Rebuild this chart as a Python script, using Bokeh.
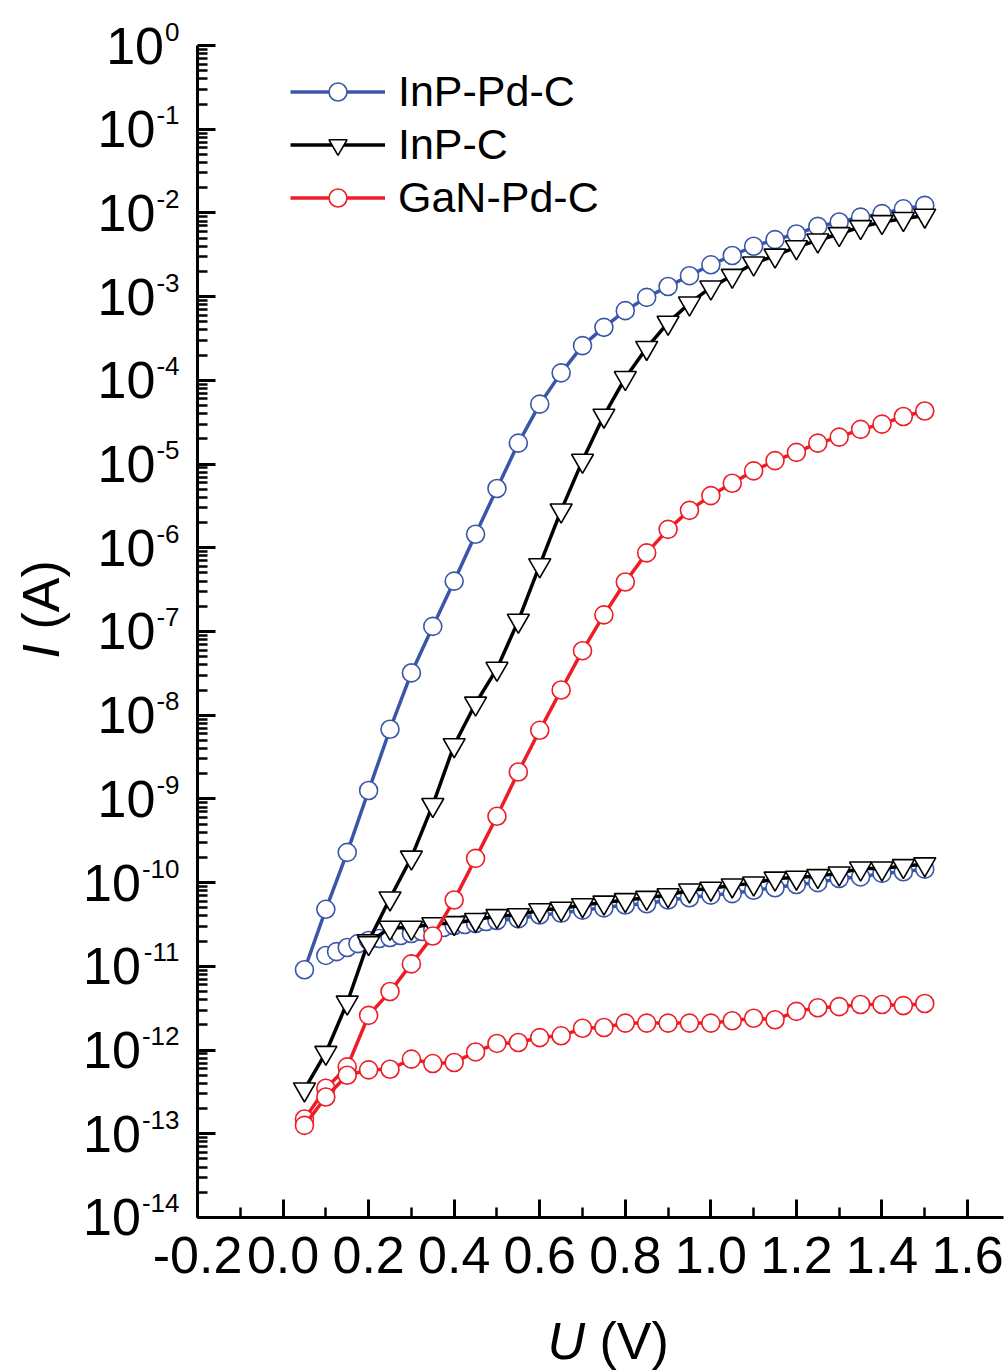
import math
from bokeh.plotting import figure
from bokeh.models import (FixedTicker, Label, Legend, LegendItem, Range1d,
                          CustomJSTickFormatter)
from bokeh.embed import file_html
from bokeh.resources import INLINE

# ---------------- data ----------------
voltage = [0.05, 0.10, 0.15, 0.20, 0.25, 0.30, 0.35, 0.40, 0.45, 0.50,
           0.55, 0.60, 0.65, 0.70, 0.75, 0.80, 0.85, 0.90, 0.95, 1.00,
           1.05, 1.10, 1.15, 1.20, 1.25, 1.30, 1.35, 1.40, 1.45, 1.50]

# InP-Pd-C, upper branch (0.05 ... 1.5 V)
inp_pd_c_hi = [9.1e-12, 4.8e-11, 2.3e-10, 1.26e-9, 6.8e-9, 3.2e-8, 1.15e-7,
               4.0e-7, 1.45e-6, 5.1e-6, 1.78e-5, 5.2e-5, 1.23e-4, 2.6e-4,
               4.3e-4, 6.8e-4, 9.8e-4, 1.32e-3, 1.78e-3, 2.4e-3, 3.1e-3,
               4.0e-3, 4.8e-3, 5.6e-3, 6.9e-3, 7.8e-3, 8.9e-3, 9.8e-3,
               1.12e-2, 1.23e-2]
# InP-Pd-C, lower branch (denser sampling up to 0.5 V)
inp_pd_c_lo_v = [0.100, 0.125, 0.150, 0.175, 0.200, 0.225, 0.250, 0.275,
                 0.300, 0.325, 0.350, 0.375, 0.400, 0.425, 0.450, 0.475,
                 0.500, 0.55, 0.60, 0.65, 0.70, 0.75, 0.80, 0.85, 0.90,
                 0.95, 1.00, 1.05, 1.10, 1.15, 1.20, 1.25, 1.30, 1.35, 1.40,
                 1.45, 1.50]
inp_pd_c_lo = [1.35e-11, 1.50e-11, 1.68e-11, 1.87e-11, 2.04e-11, 2.15e-11,
               2.21e-11, 2.34e-11, 2.47e-11, 2.61e-11, 2.75e-11, 2.91e-11,
               3.08e-11, 3.16e-11, 3.25e-11, 3.43e-11, 3.53e-11,
               3.7e-11, 4.1e-11, 4.3e-11, 4.7e-11, 5.0e-11, 5.4e-11, 5.6e-11,
               6.2e-11, 6.6e-11, 7.1e-11, 7.4e-11, 8.1e-11, 8.7e-11, 9.5e-11,
               1.0e-10, 1.12e-10, 1.17e-10, 1.29e-10, 1.35e-10, 1.45e-10]

# InP-C, upper branch (0.05 ... 1.5 V)
inp_c_hi = [3.4e-13, 9.3e-13, 3.7e-12, 2.0e-11, 6.5e-11, 2.0e-10, 8.5e-10,
            4.4e-9, 1.38e-8, 3.6e-8, 1.35e-7, 6.2e-7, 2.8e-6, 1.1e-5, 3.8e-5,
            1.07e-4, 2.45e-4, 4.9e-4, 8.3e-4, 1.29e-3, 1.78e-3, 2.5e-3,
            3.1e-3, 3.9e-3, 4.7e-3, 5.6e-3, 6.8e-3, 7.8e-3, 8.5e-3, 9.3e-3]
# InP-C, lower branch (0.2 ... 1.5 V)
inp_c_lo_v = voltage[3:]
inp_c_lo = [1.9e-11, 2.9e-11, 2.9e-11, 3.2e-11, 3.3e-11, 3.6e-11, 4.0e-11,
            4.1e-11, 4.7e-11, 4.9e-11, 5.4e-11, 5.8e-11, 6.2e-11, 6.6e-11,
            7.1e-11, 8.1e-11, 8.5e-11, 9.3e-11, 9.8e-11, 1.12e-10, 1.15e-10,
            1.2e-10, 1.29e-10, 1.48e-10, 1.48e-10, 1.58e-10, 1.66e-10]

# GaN-Pd-C, upper branch (0.05 ... 1.5 V)
gan_pd_c_hi = [1.5e-13, 3.5e-13, 6.3e-13, 2.6e-12, 5.0e-12, 1.07e-11,
               2.3e-11, 6.2e-11, 1.95e-10, 6.2e-10, 2.1e-9, 6.6e-9, 2.0e-8,
               5.9e-8, 1.58e-7, 3.9e-7, 8.7e-7, 1.66e-6, 2.8e-6, 4.2e-6,
               5.9e-6, 8.3e-6, 1.1e-5, 1.38e-5, 1.78e-5, 2.1e-5, 2.6e-5,
               3.0e-5, 3.7e-5, 4.3e-5]
# GaN-Pd-C, lower branch (0.05 ... 1.5 V)
gan_pd_c_lo = [1.26e-13, 2.75e-13, 5.0e-13, 5.8e-13, 5.9e-13, 7.8e-13,
               6.9e-13, 7.1e-13, 9.5e-13, 1.2e-12, 1.23e-12, 1.41e-12,
               1.48e-12, 1.82e-12, 1.86e-12, 2.1e-12, 2.1e-12, 2.1e-12,
               2.1e-12, 2.1e-12, 2.24e-12, 2.4e-12, 2.3e-12, 2.9e-12,
               3.2e-12, 3.3e-12, 3.5e-12, 3.5e-12, 3.4e-12, 3.6e-12]

series_names = ["InP-Pd-C", "InP-C", "GaN-Pd-C"]
x_ticks = [-0.2, 0.0, 0.2, 0.4, 0.6, 0.8, 1.0, 1.2, 1.4, 1.6]
x_tick_labels = ["-0.2", "0.0", "0.2", "0.4", "0.6", "0.8", "1.0", "1.2",
                 "1.4", "1.6"]
x_minor = [-0.1, 0.1, 0.3, 0.5, 0.7, 0.9, 1.1, 1.3, 1.5]
y_exponents = list(range(-14, 1))
x_title = ("U", "(V)")
y_title = ("I", "(A)")

# ---------------- geometry / styling ----------------
W, H = 1006, 1371
FONT = "Liberation Sans"
BLUE = "#3A56A8"
BLACK = "#000000"
RED = "#EE1C25"

# axes: x=-0.2 sits 197 px from the left, 427.8 px per volt;
#       1e0 sits 45 px from the top, 83.71 px per decade
AX_LEFT, PX_PER_V = 197.0, 427.8
AX_TOP, PX_PER_DEC = 45.0, 83.714
X_AXIS_END = -0.2 + (1003 - AX_LEFT) / PX_PER_V
x_range = Range1d(-0.2 - AX_LEFT / PX_PER_V, -0.2 + (W - AX_LEFT) / PX_PER_V)
y_range = Range1d(10 ** (-(H - AX_TOP) / PX_PER_DEC), 10 ** (AX_TOP / PX_PER_DEC))

p = figure(width=W, height=H, y_axis_type="log",
           x_range=x_range, y_range=y_range,
           output_backend="svg", toolbar_location=None,
           min_border_left=0, min_border_right=0,
           min_border_top=0, min_border_bottom=0)
p.outline_line_color = None
p.xgrid.visible = False
p.ygrid.visible = False
p.background_fill_color = "white"
p.border_fill_color = "white"

y_major = [10.0 ** e for e in y_exponents]
y_minor = [k * 10.0 ** e for e in y_exponents[:-1] for k in range(2, 10)]
p.xaxis.ticker = FixedTicker(ticks=x_ticks, minor_ticks=x_minor)
p.yaxis.ticker = FixedTicker(ticks=y_major, minor_ticks=y_minor)
p.xaxis.fixed_location = 1e-14
p.yaxis.fixed_location = -0.2
p.xaxis.bounds = (-0.2, X_AXIS_END)
p.yaxis.bounds = (1e-14, 1.0)

blank = CustomJSTickFormatter(code="return ''")
for ax in (p.xaxis[0], p.yaxis[0]):
    ax.axis_line_width = 3
    ax.axis_line_color = "black"
    ax.major_tick_in = 18
    ax.major_tick_out = 0
    ax.minor_tick_in = 10
    ax.minor_tick_out = 0
    ax.major_tick_line_width = 3
    ax.minor_tick_line_width = 2.5
    ax.major_tick_line_color = "black"
    ax.minor_tick_line_color = "black"
    ax.formatter = blank
    ax.major_label_text_font_size = "1px"
    ax.major_label_text_color = None
    ax.major_label_standoff = 0


def sy(page_y):
    """page y (from top) -> screen units of the frame (from bottom)"""
    return H - page_y


# x tick labels
for xv, txt in zip(x_ticks, x_tick_labels):
    p.add_layout(Label(x=xv, y=1e-14, x_units="data", y_units="data",
                       text=txt, text_font=FONT, text_font_size="52px",
                       text_align="center", text_baseline="middle",
                       y_offset=-38, text_color="black"))

# y tick labels: "10" with a raised exponent
EXP_FS = 26
EXP_RIGHT = 179
for e in y_exponents:
    s = str(e)
    w = EXP_FS * sum(0.333 if ch == "-" else 0.556 for ch in s)
    p.add_layout(Label(x=EXP_RIGHT, y=10.0 ** e, x_units="screen",
                       y_units="data", text=s, text_font=FONT,
                       text_font_size=f"{EXP_FS}px", text_align="right",
                       text_baseline="middle", y_offset=14,
                       text_color="black"))
    p.add_layout(Label(x=EXP_RIGHT - w - 1, y=10.0 ** e, x_units="screen",
                       y_units="data", text="10", text_font=FONT,
                       text_font_size="52px", text_align="right",
                       text_baseline="middle", text_color="black"))

# axis titles (italic symbol + upright unit, separated by a space width)
TITLE_FS = 52
SPACE = 0.278 * TITLE_FS
p.add_layout(Label(x=40, y=sy(658), x_units="screen", y_units="screen",
                   text=y_title[0], text_font=FONT, text_font_style="italic",
                   text_font_size=f"{TITLE_FS}px", angle=math.pi / 2,
                   text_align="left", text_baseline="middle",
                   text_color="black"))
p.add_layout(Label(x=40, y=sy(658 - 0.278 * TITLE_FS - SPACE),
                   x_units="screen", y_units="screen", text=y_title[1],
                   text_font=FONT, text_font_size=f"{TITLE_FS}px",
                   angle=math.pi / 2, text_align="left",
                   text_baseline="middle", text_color="black"))
p.add_layout(Label(x=547, y=sy(1340), x_units="screen", y_units="screen",
                   text=x_title[0], text_font=FONT, text_font_style="italic",
                   text_font_size=f"{TITLE_FS}px", text_align="left",
                   text_baseline="middle", text_color="black"))
p.add_layout(Label(x=547 + 0.722 * TITLE_FS + SPACE, y=sy(1340),
                   x_units="screen", y_units="screen", text=x_title[1],
                   text_font=FONT, text_font_size=f"{TITLE_FS}px",
                   text_align="left", text_baseline="middle",
                   text_color="black"))


# series
def draw(xs, ys, color, marker, size):
    ln = p.line(xs, ys, line_color=color, line_width=3.5)
    sc = p.scatter(xs, ys, marker=marker, size=size, fill_color="white",
                   line_color=color, line_width=1.6)
    return ln, sc


b1 = draw(voltage, inp_pd_c_hi, BLUE, "circle", 18)
b2 = draw(inp_pd_c_lo_v, inp_pd_c_lo, BLUE, "circle", 18)
k1 = draw(voltage, inp_c_hi, BLACK, "inverted_triangle", 22)
k2 = draw(inp_c_lo_v, inp_c_lo, BLACK, "inverted_triangle", 22)
r1 = draw(voltage, gan_pd_c_hi, RED, "circle", 18)
r2 = draw(voltage, gan_pd_c_lo, RED, "circle", 18)

LEG_H = 3 * 50 + 2 * 3
legend = Legend(items=[LegendItem(label=series_names[0], renderers=list(b1)),
                       LegendItem(label=series_names[1], renderers=list(k1)),
                       LegendItem(label=series_names[2], renderers=list(r1))],
                location=(290, H - 66 - LEG_H), padding=0, margin=0,
                spacing=3, label_height=50, glyph_width=95, glyph_height=45,
                label_standoff=13, label_text_font=FONT,
                label_text_font_size="43px", label_text_color="black",
                border_line_color=None, background_fill_alpha=0)
p.add_layout(legend)

open("out.html", "w").write(file_html(p, INLINE))
